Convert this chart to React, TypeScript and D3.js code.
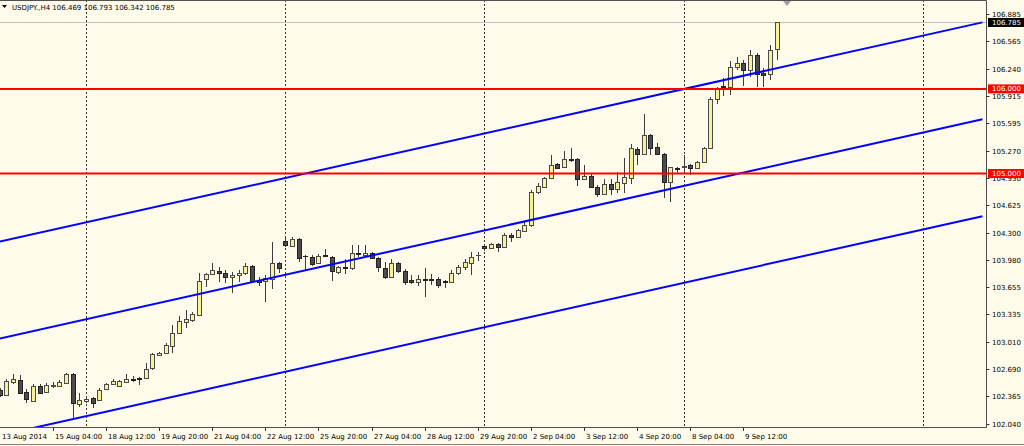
import React from "react";
import * as d3 from "d3";

// ---- data (USDJPY H4), first bar = 13 Aug 2014 20:00, bar index -13 ----
const firstBar = -13;
const opens = [102.441,102.382,102.541,102.559,102.417,102.317,102.488,102.423,102.494,102.488,102.530,102.630,102.276,
102.317,102.346,102.323,102.453,102.512,102.488,102.541,102.571,102.579,102.583,102.701,102.855,102.882,102.961,103.119,103.251,103.269,103.328,103.750,103.812,103.851,103.828,103.773,103.801,103.820,103.907,103.741,103.733,103.750,103.946,
104.206,104.143,104.222,104.025,104.010,103.939,104.037,104.010,103.840,103.891,103.880,104.064,104.037,104.057,103.998,103.880,103.773,103.939,103.851,103.741,103.721,103.750,103.750,103.750,103.726,103.721,103.820,103.891,103.946,104.033,
104.143,104.116,104.167,104.135,104.273,104.253,104.324,104.392,104.785,104.844,104.943,105.113,105.081,105.168,105.168,104.932,104.971,104.837,104.758,104.876,104.813,104.884,104.943,105.286,105.231,105.455,105.310,105.231,104.903,105.062,
105.077,105.101,105.062,105.140,105.298,105.877,106.034,106.019,106.256,106.303,106.224,106.401,106.185,106.176,106.469];
const highs = [102.465,102.571,102.630,102.618,102.453,102.512,102.512,102.524,102.539,102.559,102.646,102.642,102.405,
102.370,102.358,102.465,102.530,102.571,102.559,102.630,102.606,102.600,102.760,102.882,102.894,102.993,103.210,103.316,103.387,103.367,103.828,103.828,103.946,103.899,103.860,103.840,103.860,103.939,103.919,103.773,103.801,104.194,103.958,
104.261,104.253,104.238,104.037,104.037,104.049,104.104,104.025,103.907,103.986,104.155,104.155,104.155,104.076,104.010,103.958,103.986,103.958,103.868,103.801,103.801,103.880,103.812,103.773,103.741,103.860,103.919,103.986,104.076,104.076,
104.167,104.179,104.182,104.293,104.293,104.341,104.431,104.805,104.884,104.962,105.219,105.128,105.270,105.298,105.180,105.101,105.010,104.864,104.932,104.932,105.021,105.180,105.349,105.317,105.703,105.467,105.357,105.246,105.081,105.073,
105.213,105.113,105.152,105.317,105.901,106.019,106.129,106.334,106.381,106.342,106.460,106.428,106.244,106.519,106.793];
const lows = [102.358,102.370,102.512,102.394,102.287,102.299,102.405,102.417,102.465,102.476,102.521,102.110,102.240,
102.291,102.228,102.311,102.441,102.500,102.480,102.524,102.539,102.500,102.577,102.678,102.843,102.875,102.882,103.112,103.174,103.249,103.316,103.655,103.801,103.721,103.702,103.591,103.721,103.801,103.702,103.670,103.485,103.631,103.828,
104.135,104.135,103.958,103.860,103.907,103.931,104.017,103.733,103.812,103.812,103.860,104.017,104.025,103.986,103.840,103.750,103.762,103.820,103.682,103.694,103.670,103.537,103.682,103.643,103.643,103.702,103.801,103.860,103.801,103.970,
104.088,104.108,104.076,104.128,104.194,104.246,104.312,104.371,104.758,104.837,104.932,105.050,105.073,105.140,104.852,104.923,104.825,104.726,104.746,104.746,104.766,104.766,104.876,105.101,105.219,105.219,105.219,104.707,104.667,104.994,
104.994,104.982,105.050,105.128,105.286,105.822,105.916,105.932,106.224,106.034,106.145,106.026,106.026,106.105,106.342];
const closes = [102.382,102.547,102.571,102.405,102.335,102.488,102.411,102.500,102.500,102.535,102.630,102.287,102.323,
102.341,102.293,102.447,102.518,102.547,102.547,102.577,102.565,102.575,102.695,102.867,102.882,102.973,103.119,103.261,103.277,103.340,103.733,103.812,103.860,103.828,103.773,103.801,103.828,103.907,103.733,103.721,103.762,103.946,103.880,
104.155,104.222,103.998,104.021,103.931,104.025,104.025,103.851,103.891,103.880,104.057,104.049,104.064,103.998,103.891,103.773,103.939,103.851,103.721,103.721,103.750,103.741,103.741,103.682,103.714,103.820,103.891,103.958,104.017,104.037,
104.116,104.167,104.128,104.273,104.253,104.332,104.392,104.785,104.852,104.943,105.101,105.062,105.168,105.163,104.932,104.971,104.837,104.758,104.876,104.813,104.903,104.955,105.298,105.231,105.455,105.298,105.231,104.903,105.073,105.053,
105.083,105.062,105.140,105.298,105.877,105.996,106.019,106.256,106.303,106.224,106.401,106.176,106.168,106.460,106.785];

const priceTicks = [106.885,106.565,106.240,105.915,105.595,105.270,104.950,104.625,104.300,103.980,103.655,103.335,103.010,102.690,102.365,102.040];
const timeTickBars = [-13,-5,3,11,19,27,35,43,51,59,67,75,83,91,99];
const timeTickLabels = ["13 Aug 2014","15 Aug 04:00","18 Aug 12:00","19 Aug 20:00","21 Aug 04:00","22 Aug 12:00","25 Aug 20:00","27 Aug 04:00","28 Aug 12:00","29 Aug 20:00","2 Sep 04:00","3 Sep 12:00","4 Sep 20:00","8 Sep 04:00","9 Sep 12:00"];
const separatorBars = [0, 30, 60, 90, 126];
const levelPrices = [106.0, 105.0];
const channelBars = [-13, 135];
const channelMid = [103.05, 105.641];
const channelOffsets = [1.145, 0, -1.145];
const bidPrice = 106.785;
const titleText = "USDJPY.,H4  106.469 106.793 106.342 106.785";

const W = 1024, H = 446;
const plotRight = 986.5, plotBottom = 427.5;
const FONT = "'DejaVu Sans', Tahoma, sans-serif";

export default function App() {
  const x = d3.scaleLinear().domain([-13, 104]).range([-0.3, 776.6]);
  const y = d3.scaleLinear().domain([102.04, 106.885]).range([424, 14]);
  const bars = opens.map((o, k) => ({ i: firstBar + k, o, h: highs[k], l: lows[k], c: closes[k] }));
  const fmt = d3.format(".3f");

  return (
    <svg width={W} height={H} style={{ position: "fixed", left: 0, top: 0, display: "block" }}>
      <defs>
        <clipPath id="plot"><rect x={0} y={1} width={plotRight} height={plotBottom - 1} /></clipPath>
      </defs>
      <rect x={0} y={0} width={W} height={H} fill="#FFFBEA" />
      <g clipPath="url(#plot)">
        {separatorBars.map((b) => (
          <line key={b} x1={Math.round(x(b)) + 0.5} x2={Math.round(x(b)) + 0.5} y1={0} y2={plotBottom}
            stroke="#333" strokeWidth={1} strokeDasharray="2,2" />
        ))}
        <line x1={0} x2={plotRight} y1={Math.round(y(bidPrice)) + 0.5} y2={Math.round(y(bidPrice)) + 0.5} stroke="#C0C0C0" />
        {bars.map((b) => {
          const cx = Math.round(x(b.i));
          const up = b.c >= b.o;
          const top = Math.round(y(Math.max(b.o, b.c)));
          const bot = Math.round(y(Math.min(b.o, b.c)));
          return (
            <g key={b.i}>
              <line x1={cx + 0.5} x2={cx + 0.5} y1={Math.round(y(b.h))} y2={Math.round(y(b.l))} stroke="#3c3c3c" />
              <rect x={cx - 1.5} y={top + 0.5} width={4} height={Math.max(bot - top, 0.01)}
                fill={up ? "#F7F29A" : "#4C4C4C"} stroke={up ? "#4a4a4a" : "#222"} strokeWidth={1} />
            </g>
          );
        })}
        {channelOffsets.map((off, k) => (
          <line key={k} x1={x(channelBars[0])} x2={x(channelBars[1])}
            y1={y(channelMid[0] + off)} y2={y(channelMid[1] + off)} stroke="#0000FF" strokeWidth={2} />
        ))}
        {levelPrices.map((p) => (
          <line key={p} x1={0} x2={plotRight} y1={y(p)} y2={y(p)} stroke="#FF0000" strokeWidth={2} />
        ))}
      </g>
      {/* frame */}
      <path d={`M0,0.5H${plotRight}V${plotBottom}H0`} fill="none" stroke="#505050" strokeWidth={1} />
      {/* price axis */}
      {priceTicks.map((p) => {
        const py = Math.round(y(p)) + 0.5;
        return (
          <g key={p}>
            <line x1={plotRight} x2={plotRight + 3} y1={py} y2={py} stroke="#333" />
            <text x={992} y={py + 2.6} fontSize={7} fontFamily={FONT} fill="#000">{fmt(p)}</text>
          </g>
        );
      })}
      {levelPrices.map((p) => (
        <g key={p}>
          <rect x={988} y={y(p) - 4.5} width={36} height={9} fill="#FF0000" />
          <text x={992} y={y(p) + 2.6} fontSize={7} fontFamily={FONT} fill="#fff">{fmt(p)}</text>
        </g>
      ))}
      <rect x={988} y={y(bidPrice) - 4.5} width={36} height={9} fill="#000" />
      <text x={992} y={y(bidPrice) + 2.6} fontSize={7} fontFamily={FONT} fill="#fff">{fmt(bidPrice)}</text>
      {/* time axis */}
      {timeTickBars.map((b, k) => {
        const tx = Math.round(x(b)) + 0.5;
        return (
          <g key={b}>
            {k > 0 && <line x1={tx} x2={tx} y1={plotBottom} y2={plotBottom + 3.5} stroke="#333" />}
            <text x={Math.max(tx + 1.5, 1)} y={438.5} fontSize={7} fontFamily={FONT} fill="#000">{timeTickLabels[k]}</text>
          </g>
        );
      })}
      <line x1={0} x2={W} y1={444.5} y2={444.5} stroke="#808080" />
      {/* title */}
      <path d="M2,5 L7,5 L4.5,8 Z" fill="#000" />
      <text x={12} y={10} fontSize={7} fontFamily={FONT} fill="#000">{titleText}</text>
      {/* chart shift marker */}
      <path d="M783,1 L791,1 L787,6 Z" fill="#A0A0A0" />
    </svg>
  );
}
